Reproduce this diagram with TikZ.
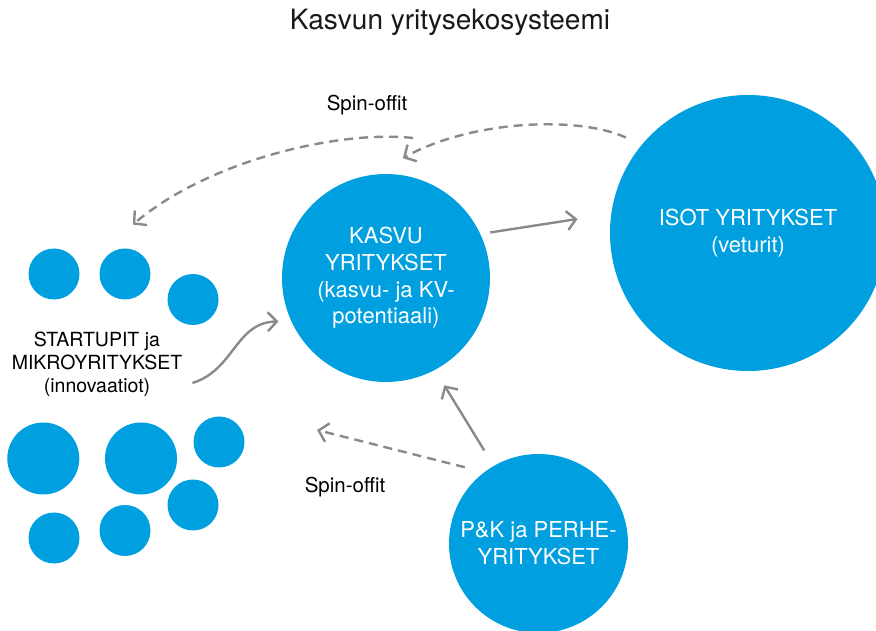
\documentclass[tikz,border=0pt]{standalone}
\usepackage{fontspec}
\setmainfont{TeX Gyre Heros}
\usetikzlibrary{arrows.meta,calc}
\definecolor{bubble}{RGB}{0,159,223}
\definecolor{arrowgrey}{RGB}{138,138,138}

\begin{document}
\begin{tikzpicture}[x=1pt,y=1pt,
  blob/.style={circle,fill=bubble,inner sep=0pt,minimum size=#1,text=white,align=center,
    font=\fontsize{22}{26.7}\selectfont},
  arr/.style={draw=arrowgrey,line width=2.4pt,-{Straight Barb[length=9pt,width=19pt]}},
  spin/.style={arr,dash pattern=on 9pt off 6pt},
  label/.style={font=\fontsize{20.5}{23}\selectfont}]
\useasboundingbox (0,0) rectangle (876,630);
\clip (0,0) rectangle (876,630);

\node[font=\fontsize{28}{32}\selectfont,text=black!90] (title) at (450,608) {Kasvun yritysekosysteemi};

\node[blob=208pt] (kasvu) at (386,352) {KASVU\\YRITYKSET\\(kasvu- ja KV-\\potentiaali)};
\node[blob=276pt] (isot) at (748,397) {ISOT YRITYKSET\\(veturit)};
\node[blob=179pt] (pk) at (538.5,86.5) {P\&K ja PERHE-\\YRITYKSET};

% pienet pallot
\foreach \n/\x/\y/\d in {s1/54/356/51, s2/125/356/51, s3/193/330.5/51,
  s4/43.3/171.5/72, s5/141/171.5/72, s6/219/188/51,
  s7/193/125/51, s8/125/99.5/51, s9/54/92/51}
  \node[blob=\d pt] (\n) at (\x,\y) {};

\node[align=center,inner sep=0pt,font=\fontsize{19.5}{23}\selectfont] (startup) at (97,266)
  {STARTUPIT ja\\MIKROYRITYKSET\\(innovaatiot)};
\node[label] (spinA) at (367,525) {Spin-offit};
\node[label] (spinB) at (345,143) {Spin-offit};

% nuolet
\draw[arr,shorten <=10pt,shorten >=34pt] (kasvu.25) -- (isot.172);
\draw[arr,shorten <=18pt,shorten >=18pt] (pk.120) -- (kasvu.-62);
\draw[arr] ([shift={(10,-19)}]startup.east) .. controls +(42,13) and +(-43,-1) .. ($(kasvu)+(202:116)$);

% spin-offit
\coordinate (spintop) at (413,492);
\coordinate (spinleft) at (317,200);
\draw[spin] ($(isot)+(142:155)$) .. controls +(-47,22) and +(68,38) .. ($(kasvu)+(82:121)$);
\draw[spin] (spintop) .. controls +(-73,8) and +(77,65) .. ($(s2)+(81:50)$);
\draw[spin] ($(pk)+(134:106)$) -- (spinleft);
\end{tikzpicture}
\end{document}
